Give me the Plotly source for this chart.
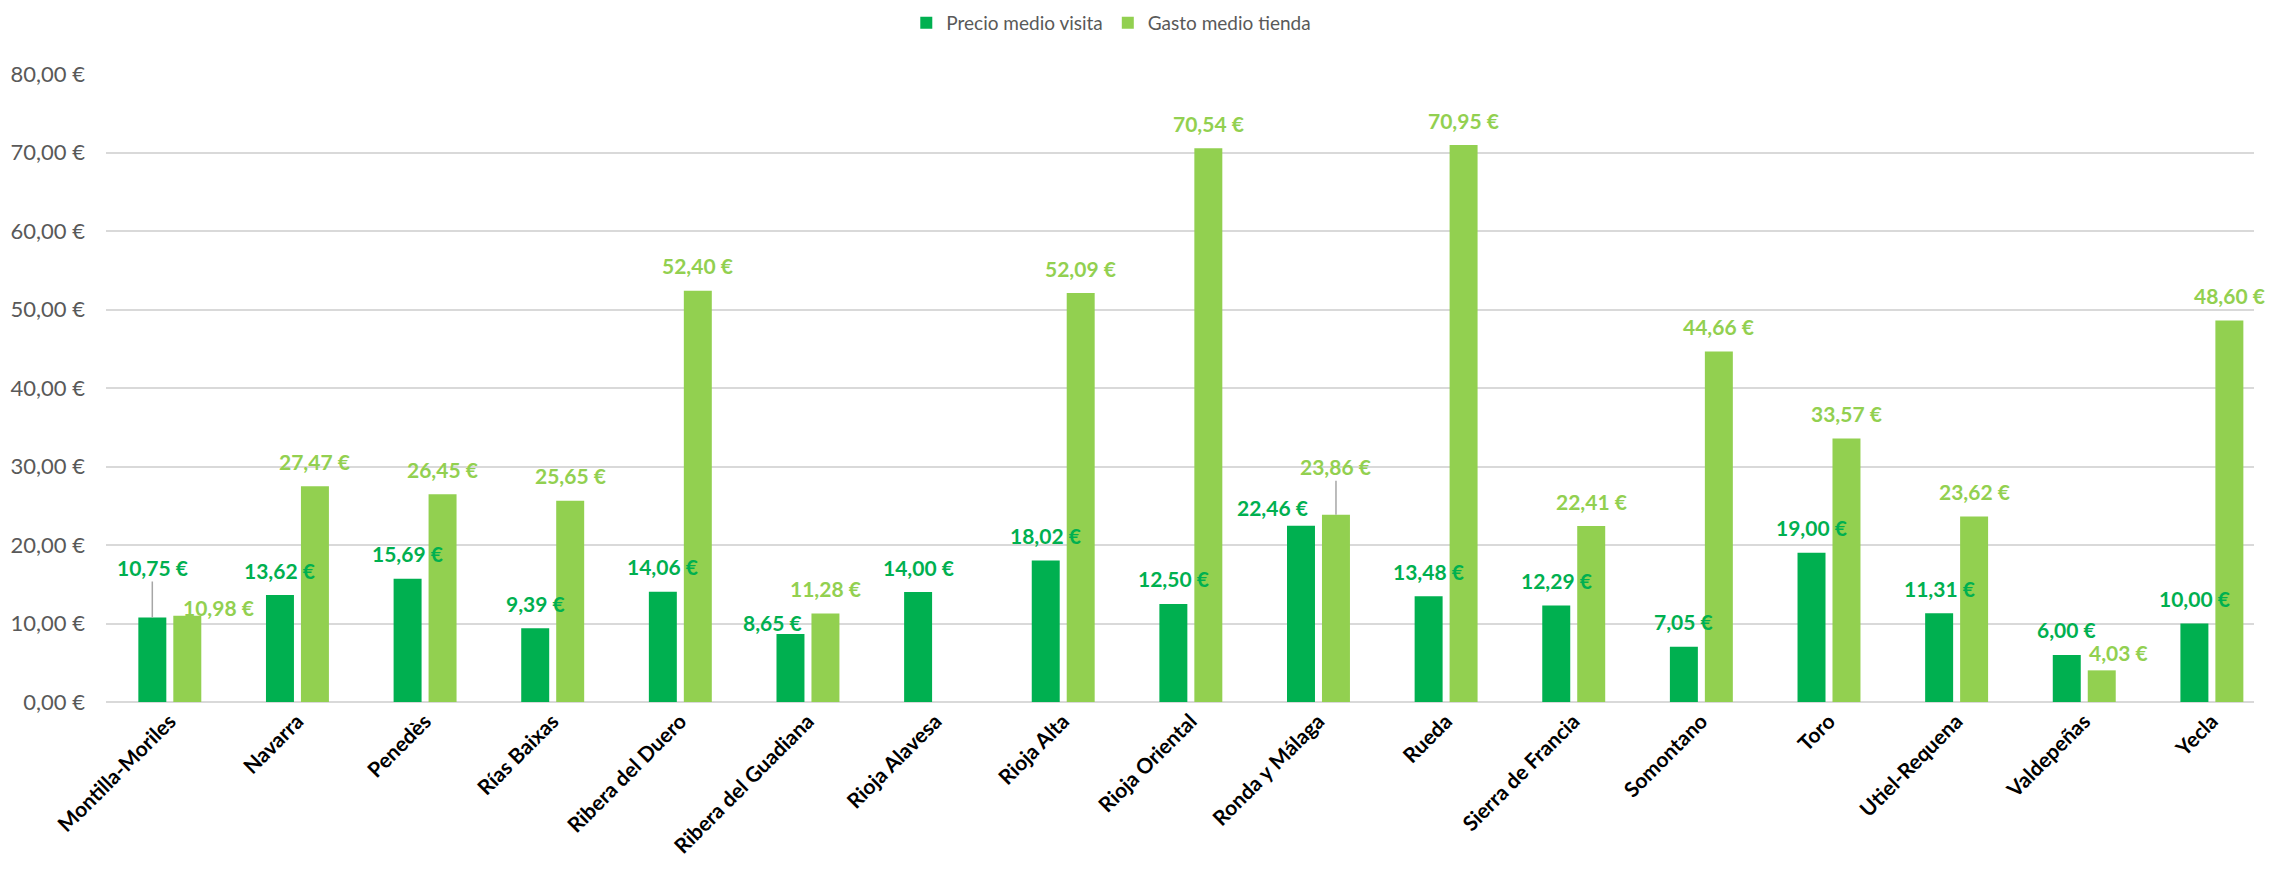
import plotly.graph_objects as go

regiones = [
    "Montilla-Moriles", "Navarra", "Penedès", "Rías Baixas", "Ribera del Duero",
    "Ribera del Guadiana", "Rioja Alavesa", "Rioja Alta", "Rioja Oriental",
    "Ronda y Málaga", "Rueda", "Sierra de Francia", "Somontano", "Toro",
    "Utiel-Requena", "Valdepeñas", "Yecla",
]
precio_visita = [10.75, 13.62, 15.69, 9.39, 14.06, 8.65, 14.00, 18.02, 12.50,
                 22.46, 13.48, 12.29, 7.05, 19.00, 11.31, 6.00, 10.00]
gasto_tienda = [10.98, 27.47, 26.45, 25.65, 52.40, 11.28, None, 52.09, 70.54,
                23.86, 70.95, 22.41, 44.66, 33.57, 23.62, 4.03, 48.60]
y_ticks = [0, 10, 20, 30, 40, 50, 60, 70, 80]

DARK = "#00B050"
LIGHT = "#92D050"
FONT = "Lato"


def euro(v):
    return f"{v:.2f}".replace(".", ",") + " €"


fig = go.Figure()
fig.add_trace(go.Bar(x=regiones, y=precio_visita, name="Precio medio visita",
                     marker=dict(color=DARK, line=dict(width=0))))
fig.add_trace(go.Bar(x=regiones, y=gasto_tienda, name="Gasto medio tienda",
                     marker=dict(color=LIGHT, line=dict(width=0))))

# label tweaks (px): (dx, lift above bar top, leader line)
ajustes_visita = {"Montilla-Moriles": (0, 50, True), "Ribera del Guadiana": (-18, 12, False),
                  "Ronda y Málaga": (-28, 18, False)}
ajustes_tienda = {"Montilla-Moriles": (31, 8, False), "Ronda y Málaga": (0, 48, True),
                  "Valdepeñas": (17, 18, False)}

for serie, color, off, ajustes in [(precio_visita, DARK, -17.5, ajustes_visita),
                                   (gasto_tienda, LIGHT, 17.5, ajustes_tienda)]:
    for reg, v in zip(regiones, serie):
        if v is None:
            continue
        dx, lift, linea = ajustes.get(reg, (0, 25, False))
        if linea:
            fig.add_annotation(x=reg, y=v, text=euro(v), xshift=off + dx,
                               showarrow=True, ax=0, ay=-lift, arrowhead=0,
                               arrowwidth=1.5, arrowcolor="#A6A6A6", standoff=0,
                               font=dict(family=FONT, size=21, color=color, weight="bold"))
        else:
            fig.add_annotation(x=reg, y=v, text=euro(v), xshift=off + dx, yshift=lift,
                               showarrow=False, yanchor="middle",
                               font=dict(family=FONT, size=21, color=color, weight="bold"))

# page body keeps its default 8px margin, so the figure is sized to fit inside it
fig.update_layout(
    width=2257,
    height=858,
    barmode="group",
    bargap=0.452,
    bargroupgap=0.2,
    margin=dict(l=98, r=11, t=66, b=164, autoexpand=False),
    paper_bgcolor="white",
    plot_bgcolor="white",
    font=dict(family=FONT, color="#595959"),
    legend=dict(orientation="h", xref="container", yref="container",
                x=0.398, xanchor="left", y=0.9825, yanchor="middle",
                font=dict(size=19, color="#595959"), traceorder="normal"),
    xaxis=dict(
        range=[-0.5, 16.33],
        tickangle=-45,
        tickfont=dict(family=FONT, size=21, color="black", weight="bold"),
        showgrid=False,
        showline=False,
        zeroline=False,
        ticklabelstandoff=2,
    ),
    yaxis=dict(
        range=[0, 80],
        tickvals=y_ticks,
        ticktext=[euro(t) for t in y_ticks],
        tickfont=dict(family=FONT, size=22, color="#595959"),
        gridcolor="#D9D9D9",
        gridwidth=1.5,
        zeroline=True,
        zerolinecolor="#D9D9D9",
        zerolinewidth=1.5,
        ticklabelstandoff=20,
    ),
)

fig.write_html("out.html")
